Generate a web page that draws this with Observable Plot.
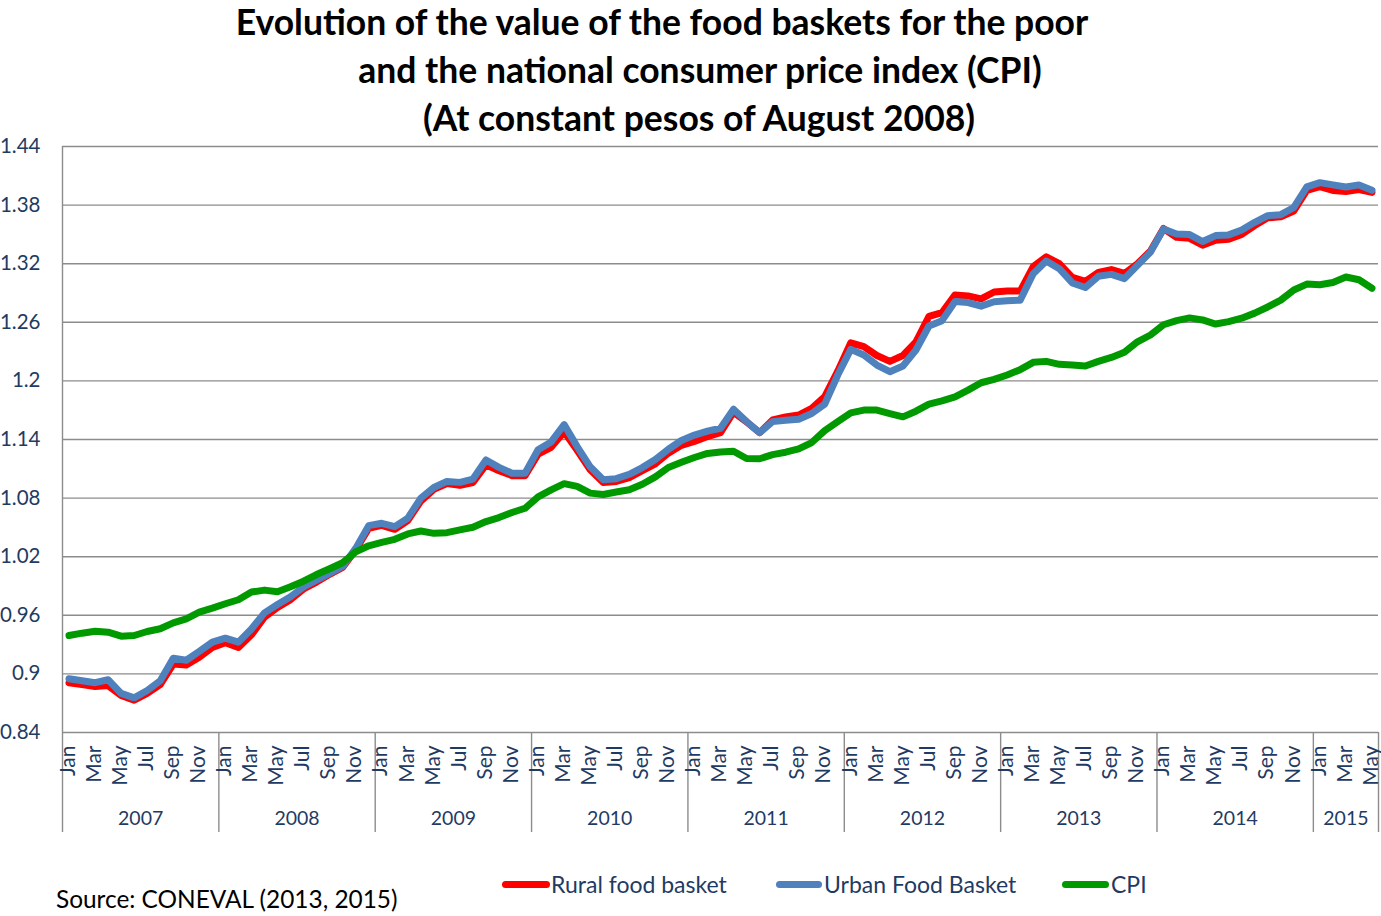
<!DOCTYPE html>
<html>
<head>
<meta charset="utf-8">
<script src="https://cdn.jsdelivr.net/npm/d3@7"></script>
<script src="https://cdn.jsdelivr.net/npm/@observablehq/plot@0.6"></script>
<style>
  body { margin: 0; background: #fff; }
  #wrap { position: relative; width: 1381px; height: 916px; overflow: hidden; font-family: Lato, "Open Sans", sans-serif; }
  .t { position: absolute; width: 1000px; text-align: center; font-weight: bold; font-size: 35.5px; color: #000; white-space: nowrap; line-height: 1; }
  #chart { position: absolute; left: 0; top: 140px; }
  .leg { position: absolute; top: 870px; font-size: 23px; color: #1F3B63; white-space: nowrap; line-height: 28px; }
  .sw { position: absolute; height: 7px; border-radius: 4px; top: 881px; }
  #src { position: absolute; left: 56px; top: 884px; font-size: 24.4px; color: #000; white-space: nowrap; line-height: 30px; }
</style>
</head>
<body>
<div id="wrap">
  <div class="t" style="left:162px; top:4px;">Evolution of the value of the food baskets for the poor</div>
  <div class="t" style="left:200px; top:52px;">and the national consumer price index (CPI)</div>
  <div class="t" style="left:199px; top:100px;">(At constant pesos of August 2008)</div>
  <div id="chart"></div>
  <div class="sw" style="left:502px; width:48px; background:#FF0000;"></div>
  <div class="leg" style="left:551px;">Rural food basket</div>
  <div class="sw" style="left:776px; width:46px; background:#4F81BD;"></div>
  <div class="leg" style="left:824px;">Urban Food Basket</div>
  <div class="sw" style="left:1062px; width:47px; background:#009A00;"></div>
  <div class="leg" style="left:1111px;">CPI</div>
  <div id="src">Source: CONEVAL (2013, 2015)</div>
</div>
<script>
const monthNames = ["Jan","Feb","Mar","Apr","May","Jun","Jul","Aug","Sep","Oct","Nov","Dec"];
const years = [2007, 2008, 2009, 2010, 2011, 2012, 2013, 2014, 2015];
const yTicks = [0.84, 0.9, 0.96, 1.02, 1.08, 1.14, 1.2, 1.26, 1.32, 1.38, 1.44];

// Monthly values, Jan 2007 - May 2015
const rural = [
  0.891, 0.889, 0.887, 0.888, 0.878, 0.873, 0.880, 0.889, 0.910, 0.909, 0.917, 0.927,
  0.932, 0.927, 0.940, 0.958, 0.968, 0.976, 0.987, 0.994, 1.002, 1.009, 1.027, 1.049,
  1.052, 1.048, 1.057, 1.077, 1.089, 1.095, 1.093, 1.096, 1.114, 1.108, 1.103, 1.103,
  1.125, 1.132, 1.148, 1.129, 1.109, 1.096, 1.097, 1.101, 1.108, 1.115, 1.126, 1.134,
  1.138, 1.143, 1.147, 1.168, 1.158, 1.147, 1.160, 1.163, 1.165, 1.172, 1.184, 1.210,
  1.239, 1.235, 1.226, 1.220, 1.226, 1.240, 1.266, 1.270, 1.288, 1.287, 1.284, 1.291,
  1.292, 1.292, 1.317, 1.327, 1.320, 1.306, 1.302, 1.311, 1.314, 1.310, 1.320, 1.333,
  1.356, 1.347, 1.346, 1.339, 1.344, 1.345, 1.350, 1.359, 1.367, 1.368, 1.374, 1.395,
  1.399, 1.395, 1.394, 1.396, 1.393
];
const urban = [
  0.895, 0.893, 0.891, 0.894, 0.880, 0.8755, 0.883, 0.893, 0.916, 0.914, 0.923, 0.9325,
  0.9366, 0.9325, 0.946, 0.9625, 0.971, 0.979, 0.989, 0.996, 1.003, 1.010, 1.0285, 1.0518,
  1.0542, 1.0508, 1.0594, 1.080, 1.0909, 1.0971, 1.0961, 1.0995, 1.119, 1.1115, 1.1054, 1.1054,
  1.1295, 1.1375, 1.1552, 1.1327, 1.112, 1.0989, 1.0999, 1.1044, 1.1113, 1.1196, 1.130, 1.139,
  1.1445, 1.1485, 1.1515, 1.171, 1.1583, 1.147, 1.1583, 1.1598, 1.1608, 1.1666, 1.1762, 1.206,
  1.2323, 1.2265, 1.2162, 1.2094, 1.2152, 1.2316, 1.2562, 1.2617, 1.2812, 1.2802, 1.2765, 1.281,
  1.282, 1.2827, 1.3098, 1.3227, 1.3149, 1.3003, 1.2956, 1.3071, 1.3091, 1.3047, 1.3183, 1.3319,
  1.3556, 1.3505, 1.3498, 1.3427, 1.3488, 1.3495, 1.3546, 1.3624, 1.3692, 1.3702, 1.3776, 1.3986,
  1.403, 1.4007, 1.3986, 1.4007, 1.3953
];
const cpi = [
  0.9393, 0.9417, 0.9437, 0.9427, 0.9386, 0.9393, 0.9434, 0.9462, 0.9523, 0.9564, 0.9632, 0.9673,
  0.9718, 0.9759, 0.9838, 0.9858, 0.9841, 0.9892, 0.9949, 1.0017, 1.0076, 1.0138, 1.025, 1.0312,
  1.0347, 1.0378, 1.0433, 1.0463, 1.0439, 1.0446, 1.0474, 1.0501, 1.056, 1.0601, 1.0653, 1.0696,
  1.0813, 1.0885, 1.0948, 1.092, 1.0851, 1.0837, 1.0862, 1.0886, 1.0941, 1.1017, 1.1113, 1.1166,
  1.1216, 1.1257, 1.1273, 1.128, 1.1206, 1.1203, 1.1245, 1.127, 1.1303, 1.1369, 1.149, 1.1583,
  1.1673, 1.1701, 1.1701, 1.1666, 1.1632, 1.169, 1.1762, 1.1796, 1.1837, 1.1906, 1.1981, 1.2015,
  1.206, 1.2115, 1.219, 1.220, 1.217, 1.2163, 1.2153, 1.220, 1.224, 1.2293, 1.240, 1.247,
  1.2575, 1.2617, 1.2645, 1.2624, 1.2582, 1.2607, 1.2642, 1.2694, 1.2757, 1.2827, 1.2931, 1.2991,
  1.2984, 1.3008, 1.3064, 1.3036, 1.2949
];

const data = rural.map((v, i) => ({
  i, year: years[Math.floor(i / 12)], month: monthNames[i % 12],
  rural: v, urban: urban[i], cpi: cpi[i]
}));
const n = data.length;
const monthLabels = data.filter(d => d.i % 2 === 0);
const yearGroups = years.map(y => {
  const idx = data.filter(d => d.year === y).map(d => d.i);
  return { year: String(y), mid: (idx[0] + idx[idx.length - 1]) / 2, start: idx[0] - 0.5 };
});
const boundaries = yearGroups.map(g => g.start).concat([n - 0.5]);

const textColor = "#1F3B63";
const gridColor = "#8C8C8C";
const yMin = yTicks[0], yMax = yTicks[yTicks.length - 1];
// depth of the category-axis separators below the plot, in y units (~100px)
const sepDepth = (yMax - yMin) * 100 / 586;

const chart = Plot.plot({
  width: 1381,
  height: 700,
  marginTop: 6,
  marginBottom: 108,
  marginLeft: 62,
  marginRight: 3,
  style: { fontFamily: "Lato, 'Open Sans', sans-serif", background: "white", overflow: "visible" },
  x: { domain: [-0.5, n - 0.5], axis: null },
  y: { domain: [yMin, yMax], axis: null },
  marks: [
    Plot.gridY(yTicks, { stroke: gridColor, strokeOpacity: 1, strokeWidth: 1.4 }),
    Plot.axisY(yTicks, {
      tickSize: 0, tickPadding: 22, fontSize: 20.5, fill: textColor,
      tickFormat: d => String(+d.toFixed(2))
    }),
    Plot.ruleX([-0.5], { y1: yMin, y2: yMax, stroke: gridColor, strokeWidth: 1.4 }),
    Plot.ruleX(boundaries, { x: d => d, y1: yMin, y2: yMin - sepDepth, stroke: gridColor, strokeWidth: 1.4, clip: false }),
    Plot.text(monthLabels, {
      x: "i", y: () => yMin, text: "month", rotate: -90, textAnchor: "end",
      lineAnchor: "middle", dy: 13, dx: -1, fontSize: 21, fill: textColor
    }),
    Plot.text(yearGroups, {
      x: "mid", y: () => yMin, text: "year", dy: 86, fontSize: 19.5, fill: textColor
    }),
    Plot.line(data, { x: "i", y: "rural", stroke: "#FF0000", strokeWidth: 7, strokeLinejoin: "round", strokeLinecap: "round" }),
    Plot.line(data, { x: "i", y: "urban", stroke: "#4F81BD", strokeWidth: 7, strokeLinejoin: "round", strokeLinecap: "round" }),
    Plot.line(data, { x: "i", y: "cpi", stroke: "#009A00", strokeWidth: 7, strokeLinejoin: "round", strokeLinecap: "round" })
  ]
});
document.getElementById("chart").appendChild(chart);
</script>
</body>
</html>
